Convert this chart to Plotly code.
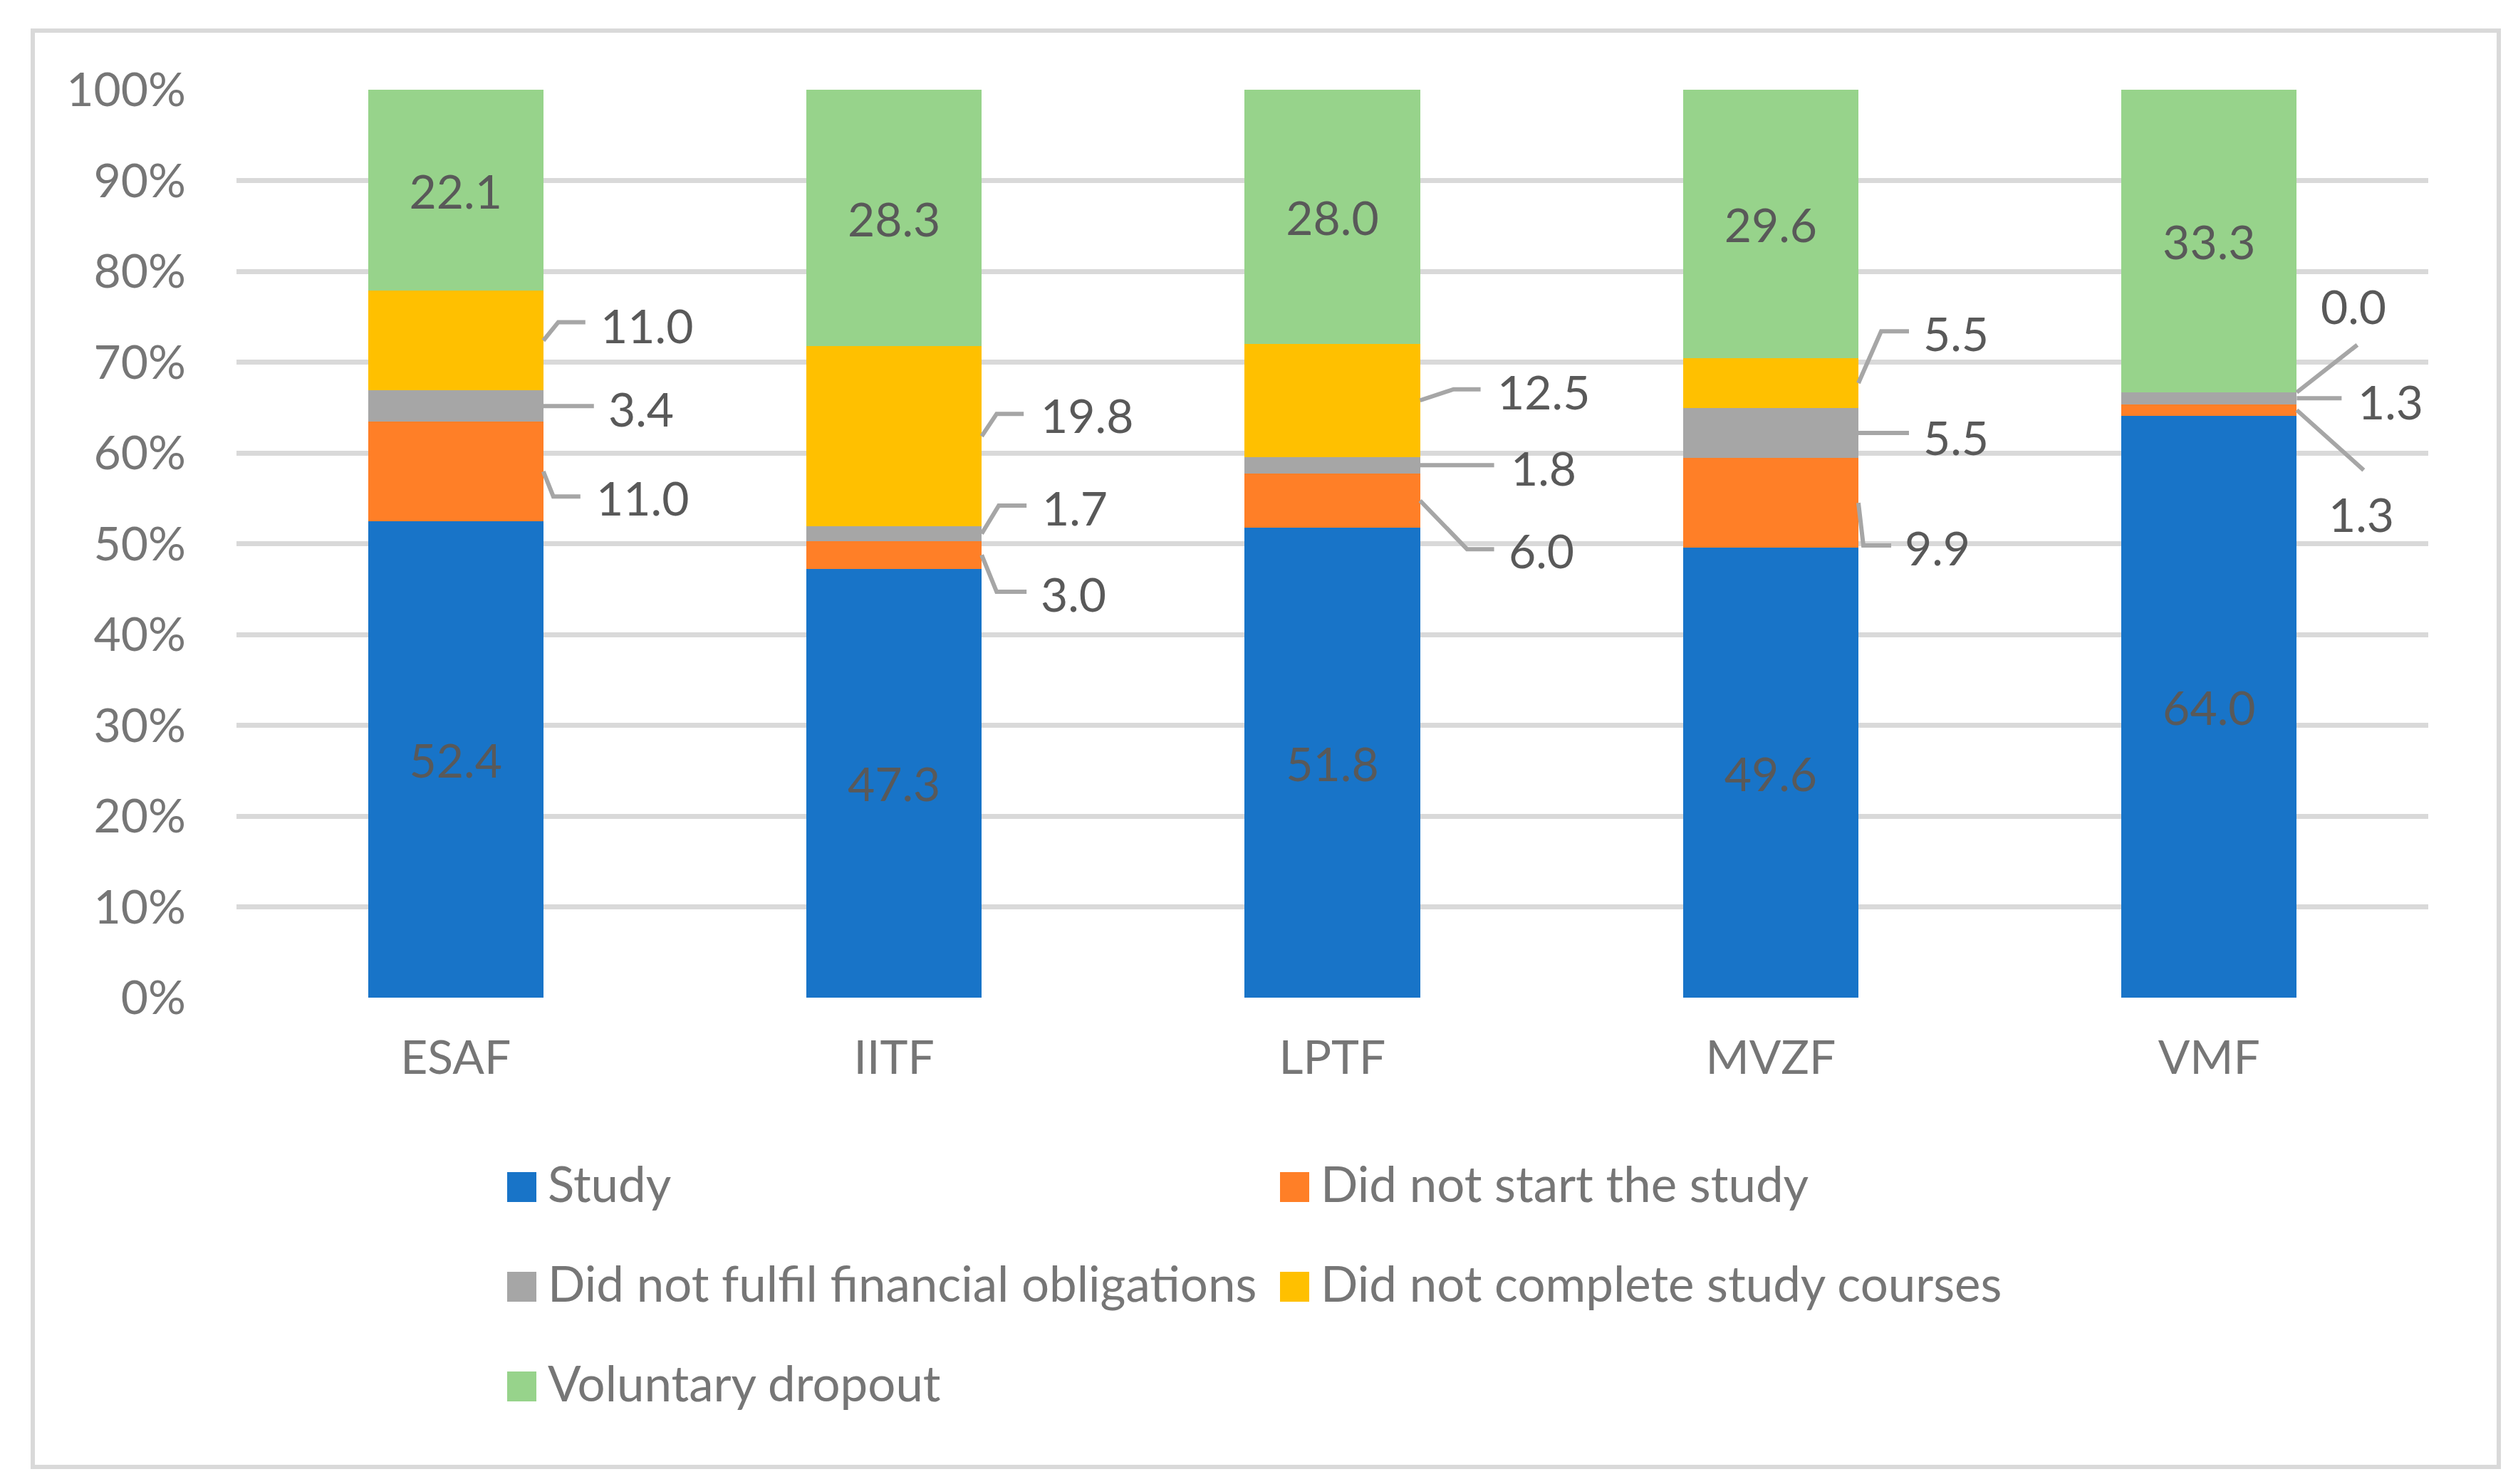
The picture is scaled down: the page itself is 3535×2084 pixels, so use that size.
import plotly.graph_objects as go

# data (share of students, %)
faculties = ['ESAF', 'IITF', 'LPTF', 'MVZF', 'VMF']
series_names = ['Study', 'Did not start the study', 'Did not fulfil financial obligations',
                'Did not complete study courses', 'Voluntary dropout']
study = [52.4, 47.3, 51.8, 49.6, 64.0]
not_started = [11.0, 3.0, 6.0, 9.9, 1.3]
not_paid = [3.4, 1.7, 1.8, 5.5, 1.3]
not_completed = [11.0, 19.8, 12.5, 5.5, 0.0]
voluntary = [22.1, 28.3, 28.0, 29.6, 33.3]
y_ticks = [0, 10, 20, 30, 40, 50, 60, 70, 80, 90, 100]
y_tick_labels = ['%d%%' % v for v in y_ticks]

series = [study, not_started, not_paid, not_completed, voluntary]
colors = ['#1874C8', '#FF7F27', '#A6A6A6', '#FFC000', '#97D38B']

# page geometry (px)
W, H = 3535, 2084
ml, mr, mt, mb = 324, 134, 118, 691
plot_w = W - ml - mr
plot_h = H - mt - mb
unit = plot_w / 5
bar_w = 0.4
font = 'Lato'
axis_grey = '#767676'
label_grey = '#595959'

# outside labels for series 1..3: (text dx px from bar edge, text y %, elbow dx px, elbow y % or None, line end dx px)
outside = {
    1: [(72, 55.1, 14, 55.2, 52), (81, 44.5, 21, 44.7, 63), (122, 49.3, 66, 49.4, 104),
        (63, 49.6, 7, 49.8, 46), (43, 53.3, 94, 58.1, 94)],
    2: [(89, 64.9, 0, None, 71), (83, 54.0, 24, 54.2, 63), (125, 58.4, 0, None, 104),
        (89, 61.8, 0, None, 71), (84, 65.7, 0, None, 63)],
    3: [(78, 74.1, 21, 74.4, 59), (81, 64.2, 21, 64.3, 59), (106, 66.8, 47, 67.0, 85),
        (89, 73.2, 32, 73.4, 71), (32, 76.2, 85, 71.9, 85)],
}

x = list(range(len(faculties)))
fig = go.Figure()
for i, (name, vals) in enumerate(zip(series_names, series)):
    inside = i in (0, 4)
    fig.add_trace(go.Bar(
        name=name, x=x, y=vals, width=bar_w, marker=dict(color=colors[i], line=dict(width=0)),
        text=['%.1f' % v for v in vals] if inside else None,
        textposition='inside' if inside else 'none', insidetextanchor='middle',
        textangle=0, constraintext='none',
        insidetextfont=dict(family=font, size=66, color=label_grey),
        showlegend=False))

# 100% stacked -> segment midpoints on the normalised scale
totals = [sum(s[k] for s in series) for k in x]
cum = [0.0] * len(x)
mids = []
for vals in series:
    m = []
    for k in x:
        share = vals[k] / totals[k] * 100
        m.append(cum[k] + share / 2)
        cum[k] += share
    mids.append(m)

lx, ly = [], []
annotations = []
for s, specs in outside.items():
    for k, (tdx, ty, edx, ey, end) in enumerate(specs):
        edge = k + bar_w / 2
        y0 = mids[s][k]
        if ey is None:
            lx += [edge, edge + end / unit, None]
            ly += [y0, y0, None]
        else:
            lx += [edge, edge + edx / unit, edge + end / unit, None]
            ly += [y0, ey, ey, None]
        annotations.append(dict(x=edge + tdx / unit, y=ty, xref='x', yref='y', text='%.1f' % series[s][k],
                                xanchor='left', yanchor='middle', showarrow=False,
                                font=dict(family=font, size=66, color=label_grey)))

fig.add_trace(go.Scatter(x=lx, y=ly, mode='lines', line=dict(color='#A6A6A6', width=6),
                         hoverinfo='skip', showlegend=False))

# legend drawn by hand (Excel style big squares), two columns
def px_x(p):
    return (p - ml) / plot_w

def px_y(p):
    return (H - mb - p) / plot_h

legend_cols = [704, 1789]
legend_rows = [1659, 1799, 1939]
shapes = []
for i, name in enumerate(series_names):
    cx = legend_cols[i % 2]
    cy = legend_rows[i // 2]
    shapes.append(dict(type='rect', xref='paper', yref='paper', x0=px_x(cx), x1=px_x(cx + 41),
                       y0=px_y(cy + 21), y1=px_y(cy - 21), fillcolor=colors[i], line=dict(width=0)))
    annotations.append(dict(x=px_x(cx + 55), y=px_y(cy - 6), xref='paper', yref='paper', text=name,
                            xanchor='left', yanchor='middle', showarrow=False,
                            font=dict(family=font, size=69, color=axis_grey)))

# outer chart border
shapes.append(dict(type='rect', xref='paper', yref='paper', x0=px_x(38), x1=px_x(3500),
                   y0=px_y(2052), y1=px_y(35), line=dict(color='#D9D9D9', width=6), layer='below'))

fig.update_layout(
    barmode='stack', barnorm='percent', width=W, height=H,
    margin=dict(l=ml, r=mr, t=mt, b=mb, pad=0),
    paper_bgcolor='white', plot_bgcolor='white',
    font=dict(family=font, size=64, color=axis_grey),
    shapes=shapes, annotations=annotations,
    xaxis=dict(tickvals=x, ticktext=faculties, range=[-0.5, 4.5], showgrid=False, zeroline=False,
               showline=False, ticks='', ticklabelstandoff=40, tickfont=dict(size=66, color=axis_grey)),
    yaxis=dict(range=[0, 100], tickvals=y_ticks, ticktext=y_tick_labels, showgrid=True, gridcolor='#D9D9D9',
               gridwidth=7, zeroline=False, showline=False, ticks='', ticklabelstandoff=70,
               tickfont=dict(size=66, color=axis_grey)),
)

fig.write_html("out.html")
